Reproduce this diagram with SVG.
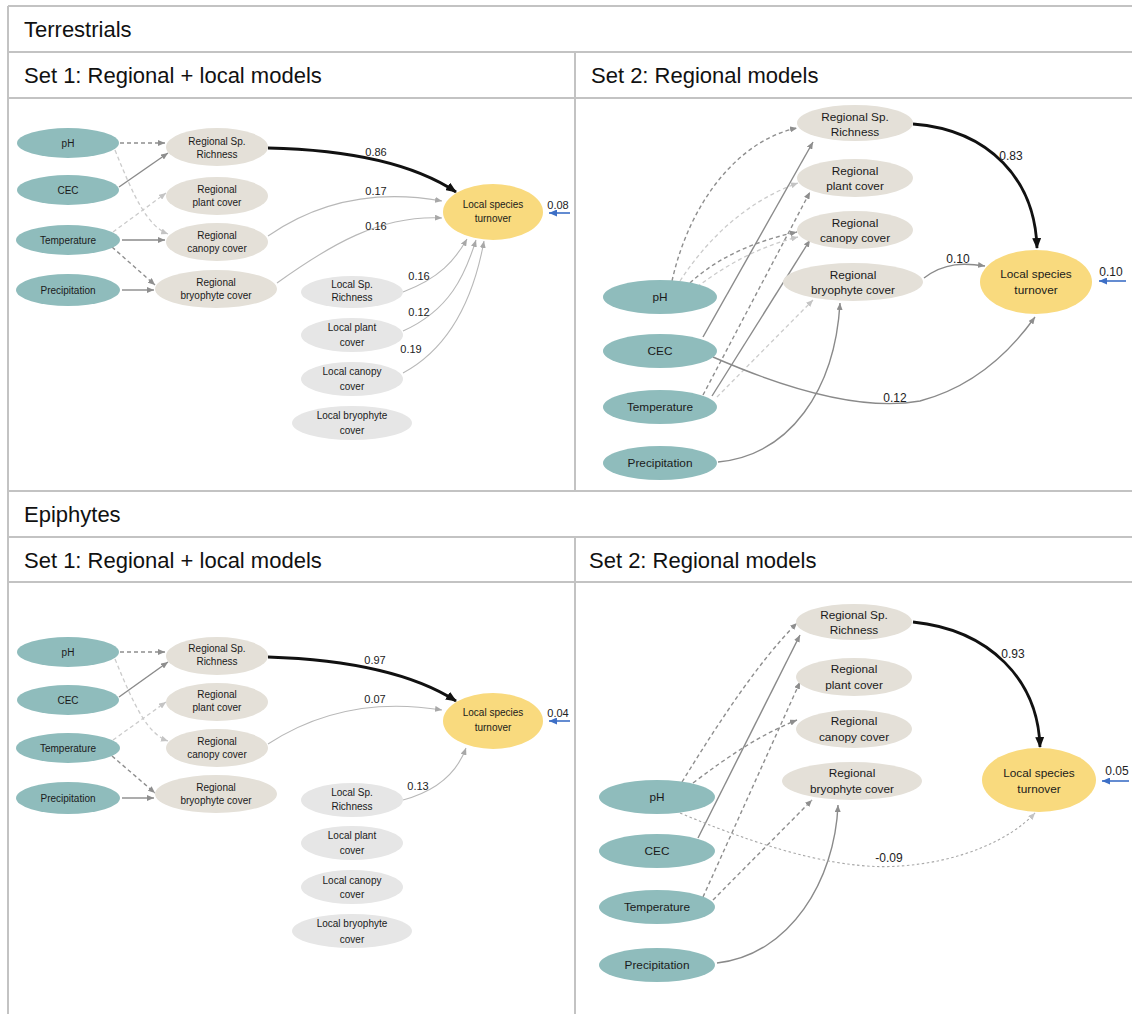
<svg xmlns="http://www.w3.org/2000/svg" width="1132" height="1014" viewBox="0 0 1132 1014">
<defs>
<style>
.grid{stroke:#c3c3c3;stroke-width:2;fill:none}
.hdr{font-family:"Liberation Sans",Arial,sans-serif;font-size:22px;fill:#111}
.src{fill:#8fbcbc}
.reg{fill:#e4e0d8}
.loc{fill:#e6e6e6}
.lst{fill:#f9da7e}
.t1{font-family:"Liberation Sans",Arial,sans-serif;font-size:10px;fill:#1a1a1a;text-anchor:middle}
.t2{font-family:"Liberation Sans",Arial,sans-serif;font-size:11.8px;fill:#1a1a1a;text-anchor:middle}
.lb1{font-family:"Liberation Sans",Arial,sans-serif;font-size:11px;fill:#222;text-anchor:middle}
.lb2{font-family:"Liberation Sans",Arial,sans-serif;font-size:12px;fill:#222;text-anchor:middle}
.dk{stroke:#8e8e8e;stroke-width:1.4;fill:none;stroke-dasharray:4 3}
.lt{stroke:#cbcbcb;stroke-width:1.3;fill:none;stroke-dasharray:4 3}
.sd{stroke:#8a8a8a;stroke-width:1.4;fill:none}
.th{stroke:#b8b8b8;stroke-width:1.1;fill:none}
.bk{stroke:#111;stroke-width:2.8;fill:none}
.dt{stroke:#a8a8a8;stroke-width:1.1;fill:none;stroke-dasharray:2.5 2.5}
.bl{stroke:#3d6fc6;stroke-width:1.6;fill:none}
</style>
<marker id="aDk" markerWidth="7" markerHeight="6" refX="7" refY="3" orient="auto" markerUnits="userSpaceOnUse"><path d="M0,0 L7,3 L0,6 z" fill="#8e8e8e"/></marker>
<marker id="aLt" markerWidth="7" markerHeight="6" refX="7" refY="3" orient="auto" markerUnits="userSpaceOnUse"><path d="M0,0 L7,3 L0,6 z" fill="#c4c4c4"/></marker>
<marker id="aTh" markerWidth="7" markerHeight="6" refX="7" refY="3" orient="auto" markerUnits="userSpaceOnUse"><path d="M0,0 L7,3 L0,6 z" fill="#a8a8a8"/></marker>
<marker id="aBk" markerWidth="11" markerHeight="9" refX="10" refY="4.5" orient="auto" markerUnits="userSpaceOnUse"><path d="M0,0 L11,4.5 L0,9 z" fill="#111"/></marker>
<marker id="aBl" markerWidth="8" markerHeight="7" refX="8" refY="3.5" orient="auto" markerUnits="userSpaceOnUse"><path d="M0,0 L8,3.5 L0,7 z" fill="#3d6fc6"/></marker>
</defs>
<rect width="1132" height="1014" fill="#fff"/>

<g id="table">
<line class="grid" x1="8" y1="6" x2="1132" y2="6"/>
<line class="grid" x1="8" y1="6" x2="8" y2="1014"/>
<line class="grid" x1="8" y1="52" x2="1132" y2="52"/>
<line class="grid" x1="8" y1="98" x2="1132" y2="98"/>
<line class="grid" x1="575" y1="52" x2="575" y2="491"/>
<line class="grid" x1="8" y1="491" x2="1132" y2="491"/>
<line class="grid" x1="8" y1="537" x2="1132" y2="537"/>
<line class="grid" x1="8" y1="582" x2="1132" y2="582"/>
<line class="grid" x1="575" y1="537" x2="575" y2="1014"/>
<text class="hdr" x="24" y="37">Terrestrials</text>
<text class="hdr" x="24" y="83">Set 1: Regional + local models</text>
<text class="hdr" x="591" y="83">Set 2: Regional models</text>
<text class="hdr" x="24" y="522">Epiphytes</text>
<text class="hdr" x="24" y="568">Set 1: Regional + local models</text>
<text class="hdr" x="589" y="568">Set 2: Regional models</text>
</g>

<g id="connectors">
<!-- Panel 1 -->
<path class="dk" d="M120,143 L165,143" marker-end="url(#aDk)"/>
<path class="lt" d="M115,150 C135,200 148,226 168,234" marker-end="url(#aLt)"/>
<path class="sd" d="M119,187 L168,153" marker-end="url(#aDk)"/>
<path class="lt" d="M113,232 L166,193" marker-end="url(#aLt)"/>
<path class="sd" d="M122,240 L165,240" marker-end="url(#aDk)"/>
<path class="dk" d="M112,247 L155,285" marker-end="url(#aDk)"/>
<path class="sd" d="M122,290 L154,290" marker-end="url(#aDk)"/>
<path class="bk" d="M268,148 C360,150 420,168 456,192" marker-end="url(#aBk)"/>
<path class="th" d="M268,236 C320,200 380,190 442,201" marker-end="url(#aTh)"/>
<path class="th" d="M277,283 C330,245 380,215 442,218" marker-end="url(#aTh)"/>
<path class="th" d="M403,292 C440,278 455,260 467,239" marker-end="url(#aTh)"/>
<path class="th" d="M403,331 C450,310 465,275 476,240" marker-end="url(#aTh)"/>
<path class="th" d="M403,373 C455,345 475,290 484,241" marker-end="url(#aTh)"/>
<path class="bl" d="M570,213 L549,213" marker-end="url(#aBl)"/>
<text class="lb1" x="376" y="156">0.86</text>
<text class="lb1" x="376" y="195">0.17</text>
<text class="lb1" x="376" y="230">0.16</text>
<text class="lb1" x="419" y="280">0.16</text>
<text class="lb1" x="419" y="316">0.12</text>
<text class="lb1" x="411" y="353">0.19</text>
<text class="lb1" x="558" y="209">0.08</text>

<!-- Panel 2 -->
<path class="dk" d="M672,281 C690,200 740,140 797,128" marker-end="url(#aDk)"/>
<path class="lt" d="M680,281 C710,235 750,200 798,183" marker-end="url(#aLt)"/>
<path class="dk" d="M690,283 C720,255 760,240 797,232" marker-end="url(#aDk)"/>
<path class="lt" d="M697,287 C730,262 762,246 798,237" marker-end="url(#aLt)"/>
<path class="sd" d="M703,337 L813,142" marker-end="url(#aDk)"/>
<path class="dk" d="M703,395 L810,192" marker-end="url(#aDk)"/>
<path class="sd" d="M712,396 L810,240" marker-end="url(#aDk)"/>
<path class="lt" d="M717,397 L813,300" marker-end="url(#aLt)"/>
<path class="sd" d="M718,462 C790,455 835,390 840,303" marker-end="url(#aDk)"/>
<path class="sd" d="M713,357 C800,395 870,410 920,401 C980,385 1015,345 1035,317" marker-end="url(#aDk)"/>
<path class="sd" d="M924,278 C945,262 965,263 985,266" marker-end="url(#aDk)"/>
<path class="bk" d="M913,124 C990,130 1035,180 1037,248" marker-end="url(#aBk)"/>
<path class="bl" d="M1126,281 L1099,281" marker-end="url(#aBl)"/>
<text class="lb2" x="1011" y="160">0.83</text>
<text class="lb2" x="958" y="263">0.10</text>
<text class="lb2" x="895" y="402">0.12</text>
<text class="lb2" x="1111" y="276">0.10</text>

<!-- Panel 3 -->
<path class="dk" d="M120,652 L165,652" marker-end="url(#aDk)"/>
<path class="lt" d="M115,659 C135,708 148,734 168,741" marker-end="url(#aLt)"/>
<path class="sd" d="M119,697 L168,662" marker-end="url(#aDk)"/>
<path class="lt" d="M113,740 L166,702" marker-end="url(#aLt)"/>
<path class="dk" d="M112,756 L155,793" marker-end="url(#aDk)"/>
<path class="sd" d="M122,798 L154,798" marker-end="url(#aDk)"/>
<path class="bk" d="M268,657 C360,660 420,678 456,701" marker-end="url(#aBk)"/>
<path class="th" d="M268,744 C320,710 380,700 442,710" marker-end="url(#aTh)"/>
<path class="th" d="M403,800 C440,790 458,770 466,748" marker-end="url(#aTh)"/>
<path class="bl" d="M570,721 L549,721" marker-end="url(#aBl)"/>
<text class="lb1" x="375" y="664">0.97</text>
<text class="lb1" x="375" y="703">0.07</text>
<text class="lb1" x="418" y="790">0.13</text>
<text class="lb1" x="558" y="717">0.04</text>

<!-- Panel 4 -->
<path class="dk" d="M682,782 C720,720 760,660 797,623" marker-end="url(#aDk)"/>
<path class="sd" d="M698,838 L800,635" marker-end="url(#aDk)"/>
<path class="dk" d="M693,783 C730,755 760,735 797,720" marker-end="url(#aDk)"/>
<path class="dk" d="M703,897 L800,682" marker-end="url(#aDk)"/>
<path class="dk" d="M713,900 L812,800" marker-end="url(#aDk)"/>
<path class="sd" d="M717,963 C790,955 835,880 838,805" marker-end="url(#aDk)"/>
<path class="dt" d="M680,813 C780,855 850,870 900,866 C960,862 1010,840 1035,813" marker-end="url(#aLt)"/>
<path class="bk" d="M913,622 C990,630 1038,680 1040,747" marker-end="url(#aBk)"/>
<path class="bl" d="M1129,781 L1102,781" marker-end="url(#aBl)"/>
<text class="lb2" x="1013" y="658">0.93</text>
<text class="lb2" x="889" y="862">-0.09</text>
<text class="lb2" x="1117" y="775">0.05</text>
</g>

<!-- Panel 1 nodes -->
<g id="t1-ph"><ellipse class="src" cx="68" cy="143" rx="51" ry="15"/><text class="t1" x="68" y="147">pH</text></g>
<g id="t1-cec"><ellipse class="src" cx="68" cy="190" rx="51" ry="15"/><text class="t1" x="68" y="194">CEC</text></g>
<g id="t1-temp"><ellipse class="src" cx="68" cy="240" rx="52" ry="15"/><text class="t1" x="68" y="244">Temperature</text></g>
<g id="t1-prec"><ellipse class="src" cx="68" cy="290" rx="52" ry="16"/><text class="t1" x="68" y="294">Precipitation</text></g>
<g id="t1-rsr"><ellipse class="reg" cx="217" cy="147" rx="51" ry="19"/><text class="t1" x="217" y="145">Regional Sp.</text><text class="t1" x="217" y="158">Richness</text></g>
<g id="t1-rpc"><ellipse class="reg" cx="217" cy="196" rx="51" ry="19"/><text class="t1" x="217" y="193">Regional</text><text class="t1" x="217" y="206">plant cover</text></g>
<g id="t1-rcc"><ellipse class="reg" cx="217" cy="242" rx="51" ry="19"/><text class="t1" x="217" y="239">Regional</text><text class="t1" x="217" y="252">canopy cover</text></g>
<g id="t1-rbc"><ellipse class="reg" cx="216" cy="289" rx="61" ry="19"/><text class="t1" x="216" y="286">Regional</text><text class="t1" x="216" y="299">bryophyte cover</text></g>
<g id="t1-lst"><ellipse class="lst" cx="493" cy="212" rx="50" ry="28"/><text class="t1" x="493" y="208">Local species</text><text class="t1" x="493" y="222">turnover</text></g>
<g id="t1-lsr"><ellipse class="loc" cx="352" cy="292" rx="51" ry="16"/><text class="t1" x="352" y="288">Local Sp.</text><text class="t1" x="352" y="301">Richness</text></g>
<g id="t1-lpc"><ellipse class="loc" cx="352" cy="335" rx="51" ry="17"/><text class="t1" x="352" y="331">Local plant</text><text class="t1" x="352" y="346">cover</text></g>
<g id="t1-lcc"><ellipse class="loc" cx="352" cy="379" rx="51" ry="17"/><text class="t1" x="352" y="375">Local canopy</text><text class="t1" x="352" y="390">cover</text></g>
<g id="t1-lbc"><ellipse class="loc" cx="352" cy="423" rx="60" ry="17"/><text class="t1" x="352" y="419">Local bryophyte</text><text class="t1" x="352" y="434">cover</text></g>

<!-- Panel 2 nodes -->
<g id="t2-ph"><ellipse class="src" cx="660" cy="297" rx="57" ry="17"/><text class="t2" x="660" y="301">pH</text></g>
<g id="t2-cec"><ellipse class="src" cx="660" cy="351" rx="57" ry="17"/><text class="t2" x="660" y="355">CEC</text></g>
<g id="t2-temp"><ellipse class="src" cx="660" cy="407" rx="57" ry="17"/><text class="t2" x="660" y="411">Temperature</text></g>
<g id="t2-prec"><ellipse class="src" cx="660" cy="463" rx="57" ry="17"/><text class="t2" x="660" y="467">Precipitation</text></g>
<g id="t2-rsr"><ellipse class="reg" cx="855" cy="123" rx="58" ry="18"/><text class="t2" x="855" y="121">Regional Sp.</text><text class="t2" x="855" y="136">Richness</text></g>
<g id="t2-rpc"><ellipse class="reg" cx="855" cy="178" rx="58" ry="19"/><text class="t2" x="855" y="175">Regional</text><text class="t2" x="855" y="190">plant cover</text></g>
<g id="t2-rcc"><ellipse class="reg" cx="855" cy="230" rx="58" ry="19"/><text class="t2" x="855" y="227">Regional</text><text class="t2" x="855" y="242">canopy cover</text></g>
<g id="t2-rbc"><ellipse class="reg" cx="853" cy="282" rx="70" ry="19"/><text class="t2" x="853" y="279">Regional</text><text class="t2" x="853" y="294">bryophyte cover</text></g>
<g id="t2-lst"><ellipse class="lst" cx="1036" cy="282" rx="56" ry="32"/><text class="t2" x="1036" y="278">Local species</text><text class="t2" x="1036" y="294">turnover</text></g>

<!-- Panel 3 nodes -->
<g id="e1-ph"><ellipse class="src" cx="68" cy="652" rx="51" ry="15"/><text class="t1" x="68" y="656">pH</text></g>
<g id="e1-cec"><ellipse class="src" cx="68" cy="700" rx="51" ry="15"/><text class="t1" x="68" y="704">CEC</text></g>
<g id="e1-temp"><ellipse class="src" cx="68" cy="748" rx="52" ry="15"/><text class="t1" x="68" y="752">Temperature</text></g>
<g id="e1-prec"><ellipse class="src" cx="68" cy="798" rx="52" ry="16"/><text class="t1" x="68" y="802">Precipitation</text></g>
<g id="e1-rsr"><ellipse class="reg" cx="217" cy="656" rx="51" ry="19"/><text class="t1" x="217" y="652">Regional Sp.</text><text class="t1" x="217" y="665">Richness</text></g>
<g id="e1-rpc"><ellipse class="reg" cx="217" cy="702" rx="51" ry="19"/><text class="t1" x="217" y="698">Regional</text><text class="t1" x="217" y="711">plant cover</text></g>
<g id="e1-rcc"><ellipse class="reg" cx="217" cy="748" rx="51" ry="19"/><text class="t1" x="217" y="745">Regional</text><text class="t1" x="217" y="758">canopy cover</text></g>
<g id="e1-rbc"><ellipse class="reg" cx="216" cy="794" rx="61" ry="19"/><text class="t1" x="216" y="791">Regional</text><text class="t1" x="216" y="804">bryophyte cover</text></g>
<g id="e1-lst"><ellipse class="lst" cx="493" cy="721" rx="50" ry="28"/><text class="t1" x="493" y="716">Local species</text><text class="t1" x="493" y="731">turnover</text></g>
<g id="e1-lsr"><ellipse class="loc" cx="352" cy="800" rx="51" ry="17"/><text class="t1" x="352" y="796">Local Sp.</text><text class="t1" x="352" y="810">Richness</text></g>
<g id="e1-lpc"><ellipse class="loc" cx="352" cy="843" rx="51" ry="17"/><text class="t1" x="352" y="839">Local plant</text><text class="t1" x="352" y="854">cover</text></g>
<g id="e1-lcc"><ellipse class="loc" cx="352" cy="887" rx="51" ry="17"/><text class="t1" x="352" y="884">Local canopy</text><text class="t1" x="352" y="898">cover</text></g>
<g id="e1-lbc"><ellipse class="loc" cx="352" cy="931" rx="60" ry="17"/><text class="t1" x="352" y="927">Local bryophyte</text><text class="t1" x="352" y="943">cover</text></g>

<!-- Panel 4 nodes -->
<g id="e2-ph"><ellipse class="src" cx="657" cy="797" rx="58" ry="17"/><text class="t2" x="657" y="801">pH</text></g>
<g id="e2-cec"><ellipse class="src" cx="657" cy="851" rx="58" ry="17"/><text class="t2" x="657" y="855">CEC</text></g>
<g id="e2-temp"><ellipse class="src" cx="657" cy="907" rx="58" ry="17"/><text class="t2" x="657" y="911">Temperature</text></g>
<g id="e2-prec"><ellipse class="src" cx="657" cy="965" rx="58" ry="17"/><text class="t2" x="657" y="969">Precipitation</text></g>
<g id="e2-rsr"><ellipse class="reg" cx="854" cy="622" rx="58" ry="18"/><text class="t2" x="854" y="619">Regional Sp.</text><text class="t2" x="854" y="634">Richness</text></g>
<g id="e2-rpc"><ellipse class="reg" cx="854" cy="677" rx="58" ry="19"/><text class="t2" x="854" y="673">Regional</text><text class="t2" x="854" y="689">plant cover</text></g>
<g id="e2-rcc"><ellipse class="reg" cx="854" cy="729" rx="58" ry="19"/><text class="t2" x="854" y="725">Regional</text><text class="t2" x="854" y="741">canopy cover</text></g>
<g id="e2-rbc"><ellipse class="reg" cx="852" cy="781" rx="70" ry="19"/><text class="t2" x="852" y="777">Regional</text><text class="t2" x="852" y="793">bryophyte cover</text></g>
<g id="e2-lst"><ellipse class="lst" cx="1039" cy="780" rx="57" ry="32"/><text class="t2" x="1039" y="777">Local species</text><text class="t2" x="1039" y="793">turnover</text></g>
</svg>
